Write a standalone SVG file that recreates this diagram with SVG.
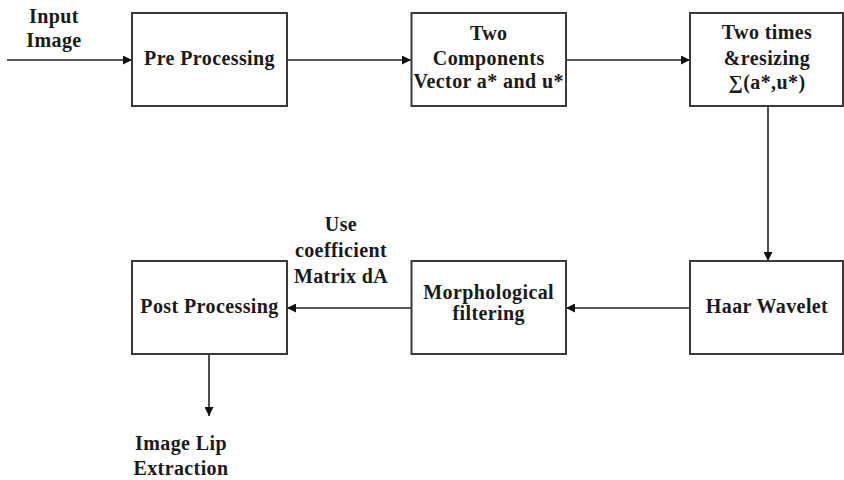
<svg xmlns="http://www.w3.org/2000/svg" width="844" height="480" viewBox="0 0 844 480">
<style>
.box{fill:#fff;stroke:#3a3a3a;stroke-width:2}
text{font-family:'Liberation Serif','DejaVu Serif',serif;font-weight:700;font-size:20px;fill:#1a1a1a;text-anchor:middle;letter-spacing:0.4px}
.c{stroke:#222;stroke-width:1.6;fill:none;marker-end:url(#ah)}
</style>
<defs>
<marker id="ah" viewBox="0 0 10 10" refX="10" refY="5" markerWidth="11" markerHeight="9" markerUnits="userSpaceOnUse" orient="auto">
<path d="M0,0 L10,5 L0,10 Z" fill="#111"/>
</marker>
</defs>
<rect width="844" height="480" fill="#fff"/>
<g id="connectors">
<line class="c" x1="7" y1="60" x2="132" y2="60"/>
<line class="c" x1="287" y1="60" x2="411" y2="60"/>
<line class="c" x1="566" y1="60" x2="690" y2="60"/>
<line class="c" x1="768" y1="106" x2="768" y2="261"/>
<line class="c" x1="690" y1="308" x2="566" y2="308"/>
<line class="c" x1="411" y1="308" x2="287" y2="308"/>
<line class="c" x1="209" y1="354" x2="209" y2="416"/>
</g>
<g id="input">
<text x="54" y="23">Input</text>
<text x="54" y="47">Image</text>
</g>
<g id="pre">
<rect class="box" x="132" y="13" width="155" height="93"/>
<text x="209.5" y="65">Pre Processing</text>
</g>
<g id="twocomp">
<rect class="box" x="411.5" y="13" width="154.5" height="93"/>
<text x="488.7" y="40">Two</text>
<text x="488.7" y="65">Components</text>
<text x="488.7" y="88">Vector a* and u*</text>
</g>
<g id="twotimes">
<rect class="box" x="690" y="13" width="153" height="93"/>
<text x="767" y="39">Two times</text>
<text x="767" y="65">&amp;resizing</text>
<text x="767" y="89">∑(a*,u*)</text>
</g>
<g id="haar">
<rect class="box" x="690" y="261" width="153" height="93"/>
<text x="767" y="313">Haar Wavelet</text>
</g>
<g id="morph">
<rect class="box" x="411.5" y="261" width="154.5" height="93"/>
<text x="488.7" y="299">Morphological</text>
<text x="488.7" y="320">filtering</text>
</g>
<g id="post">
<rect class="box" x="132" y="261" width="155" height="93"/>
<text x="209.5" y="313">Post Processing</text>
</g>
<g id="uselabel">
<text x="341" y="231">Use</text>
<text x="341" y="257">coefficient</text>
<text x="341" y="283">Matrix dA</text>
</g>
<g id="output">
<text x="181" y="450">Image Lip</text>
<text x="181" y="475">Extraction</text>
</g>
</svg>
